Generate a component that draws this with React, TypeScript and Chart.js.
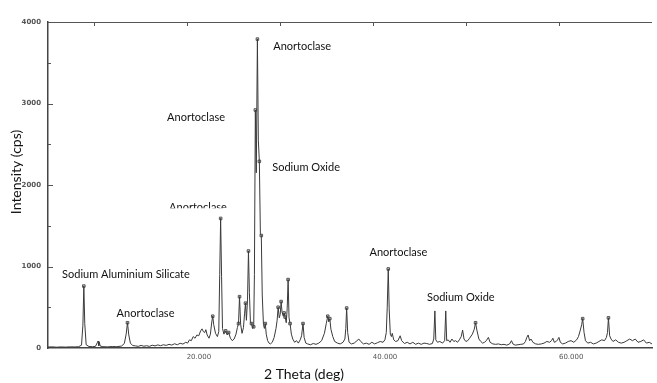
import { useEffect, useRef } from "react";
import { Chart, registerables } from "chart.js";

Chart.register(...registerables);

// Diffraction pattern: 2θ (deg) and intensity (cps)
const twoTheta = [
  5.1, 5.5, 6.0, 6.5, 7.0, 7.5, 8.0, 8.4, 8.7, 8.85, 8.95, 9.05, 9.2, 9.5, 9.9,
  10.2, 10.4, 10.48, 10.55, 10.62, 10.7, 11.0, 11.5, 12.0, 12.5, 13.0, 13.3, 13.5, 13.64, 13.78,
  13.95, 14.2, 14.5, 14.8, 15.1, 15.4, 15.7, 16.0, 16.3, 16.6, 16.9, 17.2, 17.5, 17.8, 18.1,
  18.4, 18.7, 19.0, 19.3, 19.6, 19.9, 20.1, 20.3, 20.5, 20.7, 20.9, 21.1, 21.3, 21.5, 21.65,
  21.8, 21.95, 22.06, 22.2, 22.4, 22.55, 22.7, 22.8, 22.9, 23.1, 23.3, 23.45, 23.55, 23.65, 23.75,
  23.85, 24.0, 24.19, 24.35, 24.51, 24.7, 24.9, 25.1, 25.3, 25.45, 25.57, 25.68, 25.8, 25.95, 26.1,
  26.22, 26.32, 26.42, 26.54, 26.64, 26.74, 26.85, 26.96, 27.08, 27.2, 27.28, 27.38, 27.48, 27.6, 27.7,
  27.81, 27.92, 28.02, 28.12, 28.25, 28.35, 28.45, 28.55, 28.7, 28.85, 29.0, 29.2, 29.4, 29.6, 29.72,
  29.83, 29.95, 30.05, 30.15, 30.25, 30.38, 30.47, 30.58, 30.7, 30.8, 30.9, 31.0, 31.11, 31.25, 31.4,
  31.6, 31.8, 32.0, 32.2, 32.35, 32.5, 32.62, 32.8, 33.0, 33.3, 33.6, 33.9, 34.2, 34.5, 34.8,
  35.0, 35.16, 35.27, 35.38, 35.5, 35.7, 35.9, 36.2, 36.5, 36.8, 37.0, 37.1, 37.19, 37.3, 37.45,
  37.7, 38.0, 38.3, 38.5, 38.7, 39.0, 39.3, 39.6, 39.9, 40.2, 40.5, 40.8, 41.1, 41.3, 41.45,
  41.55, 41.66, 41.76, 41.88, 42.0, 42.09, 42.25, 42.45, 42.7, 42.94, 43.1, 43.4, 43.7, 44.0, 44.3,
  44.6, 44.9, 45.2, 45.5, 45.8, 46.1, 46.4, 46.55, 46.67, 46.77, 46.95, 47.2, 47.5, 47.72, 47.84,
  47.94, 48.1, 48.3, 48.5, 48.7, 48.9, 49.1, 49.3, 49.5, 49.65, 49.8, 50.0, 50.2, 50.4, 50.7,
  50.9, 51.04, 51.2, 51.4, 51.6, 51.8, 52.0, 52.2, 52.42, 52.6, 52.9, 53.2, 53.5, 53.8, 54.1,
  54.4, 54.7, 54.9, 55.05, 55.3, 55.6, 55.9, 56.2, 56.4, 56.55, 56.69, 56.85, 57.0, 57.2, 57.5,
  57.8, 58.1, 58.4, 58.7, 59.0, 59.2, 59.35, 59.5, 59.7, 59.85, 60.0, 60.15, 60.4, 60.7, 61.0,
  61.3, 61.6, 61.9, 62.1, 62.3, 62.45, 62.55, 62.7, 62.85, 63.1, 63.4, 63.7, 64.0, 64.3, 64.6,
  64.9, 65.1, 65.22, 65.32, 65.45, 65.6, 65.8, 66.1, 66.4, 66.7, 67.0, 67.3, 67.6, 67.9, 68.2,
  68.5, 68.8, 69.1, 69.4, 69.7, 70.0,
];
const intensity = [
  12, 14, 10, 13, 11, 14, 13, 16, 35, 280, 760, 300, 40, 18, 16,
  20, 65, 85, 28, 70, 25, 16, 14, 18, 16, 24, 55, 170, 310, 160,
  60, 30, 26, 20, 32, 22, 28, 20, 34, 26, 38, 28, 40, 32, 45,
  36, 52, 40, 58, 48, 70, 60, 100, 90, 140, 120, 160, 150, 210, 235,
  200, 190, 225, 160, 120, 170, 320, 390, 290, 180, 140, 200, 900, 1590, 880,
  240, 170, 210, 160, 190, 120, 90, 110, 170, 250, 300, 630, 290, 180, 250,
  420, 550, 340, 600, 1190, 680, 320, 300, 240, 260, 900, 2920, 2150, 3790, 2550,
  2290, 1400, 1380, 650, 290, 240, 300, 170, 90, 60, 50, 70, 130, 240, 340,
  500, 370, 410, 570, 440, 390, 430, 380, 310, 480, 840, 370, 300, 170, 110,
  70, 90, 60, 100, 150, 300, 130, 60, 50, 40, 55, 45, 60, 90, 180,
  300, 390, 320, 360, 230, 140, 80, 60, 50, 70, 110, 240, 490, 190, 70,
  50, 60, 90, 110, 80, 50, 60, 45, 70, 50, 65, 80, 70, 100, 190,
  500, 970, 480, 170, 140, 180, 100, 80, 90, 150, 90, 55, 70, 50, 70,
  45, 60, 45, 60, 55, 45, 55, 110, 455, 100, 70, 80, 60, 90, 455,
  90, 100, 70, 110, 80, 90, 70, 100, 140, 220, 110, 80, 90, 120, 170,
  230, 310, 210, 110, 80, 60, 70, 90, 130, 70, 50, 45, 50, 40, 45,
  35, 50, 90, 50, 35, 40, 45, 50, 80, 130, 160, 90, 110, 70, 50,
  45, 50, 60, 80, 70, 90, 120, 70, 80, 100, 130, 70, 50, 60, 80,
  90, 70, 100, 140, 220, 290, 360, 190, 90, 60, 70, 50, 60, 80, 100,
  90, 130, 190, 370, 150, 110, 80, 100, 70, 60, 70, 90, 110, 90, 110,
  70, 80, 100, 60, 70, 50,
];

// Peaks flagged by the instrument software (small square markers)
const peakTheta = [
  8.95, 13.64, 22.8, 23.65, 24.19, 24.51, 25.57, 25.68, 26.32, 26.64, 26.96, 27.2, 27.38, 27.6, 27.81,
  28.02, 28.45, 29.83, 30.15, 30.47, 30.58, 30.9, 31.11, 32.5, 35.16, 35.38, 37.19, 41.66, 51.04, 62.55,
  65.32,
];
const peakIntensity = [
  760, 310, 390, 1590, 210, 190, 300, 630, 550, 1190, 300, 260, 2920, 3790, 2290,
  1380, 300, 500, 570, 430, 380, 840, 300, 300, 390, 360, 490, 970, 310, 360,
  370,
];

// Phase annotations (text anchored at its left edge, vertical centre)
const annotationTexts = [
  "Sodium Aluminium Silicate",
  "Anortoclase",
  "Anortoclase",
  "Anortoclase",
  "Sodium Oxide",
  "Anortoclase",
  "Anortoclase",
  "Sodium Oxide",
];
const annotationTheta = [6.61, 12.47, 29.3, 17.9, 29.2, 18.11, 39.64, 45.82];
const annotationCps = [898, 430, 3702, 2829, 2214, 1722, 1168, 615];

const yTickValues = [0, 1000, 2000, 3000, 4000];
const xTickValues = [20, 40, 60];
const xTickLabels = ["20.000", "40.000", "60.000"];
const xMinorTicks = [10, 20, 30, 40, 50, 60];
const yMinorTicks = [500, 1000, 1500, 2000, 2500, 3000, 3500];

const xTitle = "2 Theta (deg)";
const yTitle = "Intensity (cps)";

const CLIPPED_LABEL = 5;

const overlayPlugin = {
  id: "xrdOverlay",
  afterDraw(chart: any) {
    const { ctx, chartArea, scales } = chart;
    const x = scales.x;
    const y = scales.y;
    ctx.save();
    ctx.strokeStyle = "#555";
    ctx.lineWidth = 1;
    // top frame line
    ctx.beginPath();
    ctx.moveTo(chartArea.left, chartArea.top + 0.5);
    ctx.lineTo(chartArea.right, chartArea.top + 0.5);
    ctx.stroke();
    // top ticks
    xMinorTicks.forEach((t) => {
      const px = Math.round(x.getPixelForValue(t)) + 0.5;
      ctx.beginPath();
      ctx.moveTo(px, chartArea.top);
      ctx.lineTo(px, chartArea.top + 4);
      ctx.stroke();
    });
    // inner y ticks
    yMinorTicks.forEach((v) => {
      const py = Math.round(y.getPixelForValue(v)) + 0.5;
      ctx.beginPath();
      ctx.moveTo(chartArea.left, py);
      ctx.lineTo(chartArea.left + (v % 1000 === 0 ? 5 : 3), py);
      ctx.stroke();
    });

    // annotations
    ctx.fillStyle = "#111";
    ctx.font = "11px Lato";
    ctx.textAlign = "left";
    ctx.textBaseline = "middle";
    annotationTexts.forEach((text, i) => {
      const px = x.getPixelForValue(annotationTheta[i]);
      const py = y.getPixelForValue(annotationCps[i]);
      if (i === CLIPPED_LABEL) {
        ctx.save();
        ctx.beginPath();
        ctx.rect(px - 2, py - 10, 90, 10.5);
        ctx.clip();
        ctx.fillText(text, px, py);
        ctx.restore();
      } else {
        ctx.fillText(text, px, py);
      }
    });

    // axis titles
    ctx.font = "14px Lato";
    ctx.textAlign = "center";
    ctx.fillText(xTitle, 304, 374);
    ctx.translate(16, 172);
    ctx.rotate(-Math.PI / 2);
    ctx.fillText(yTitle, 0, 0);
    ctx.restore();
  },
};

export default function App() {
  const canvasRef = useRef<HTMLCanvasElement | null>(null);

  useEffect(() => {
    document.body.style.margin = "0";
    document.body.style.background = "#fff";
    const canvas = canvasRef.current;
    if (!canvas) return;

    const lineData = twoTheta.map((t, i) => ({ x: t, y: intensity[i] }));
    const peakData = peakTheta.map((t, i) => ({ x: t, y: peakIntensity[i] }));

    const chart = new Chart(canvas, {
      type: "line",
      data: {
        datasets: [
          {
            label: "Pattern",
            data: lineData,
            borderColor: "#3a3a3a",
            borderWidth: 1,
            pointRadius: 0,
            tension: 0,
            fill: false,
          },
          {
            label: "Peaks",
            data: peakData,
            showLine: false,
            pointStyle: "rect",
            pointRadius: 1.8,
            borderWidth: 1,
            pointBorderColor: "#555",
            pointBackgroundColor: "#ccc",
          },
        ],
      },
      options: {
        responsive: false,
        animation: false,
        devicePixelRatio: 1,
        layout: { padding: { top: 22, right: 0, left: 0, bottom: 0 } },
        plugins: {
          legend: { display: false },
          tooltip: { enabled: false },
        },
        scales: {
          x: {
            type: "linear",
            min: 5.1,
            max: 70,
            grid: { display: false, drawTicks: false },
            border: { display: true, color: "#444", width: 1.5 },
            afterBuildTicks: (scale: any) => {
              scale.ticks = xTickValues.map((v) => ({ value: v }));
            },
            afterFit: (scale: any) => {
              scale.height = 35;
            },
            ticks: {
              align: "start",
              padding: 5,
              color: "#555",
              font: { family: "DejaVu Sans", size: 7 },
              maxRotation: 0,
              autoSkip: false,
              callback: (value: any) => {
                const idx = xTickValues.indexOf(Number(value));
                return idx >= 0 ? xTickLabels[idx] : "";
              },
            },
          },
          y: {
            type: "linear",
            min: 0,
            max: 4000,
            grid: { display: false, drawTicks: false },
            border: { display: true, color: "#444", width: 1.5 },
            afterBuildTicks: (scale: any) => {
              scale.ticks = yTickValues.map((v) => ({ value: v }));
            },
            afterFit: (scale: any) => {
              scale.width = 48;
            },
            ticks: {
              padding: 7,
              color: "#555",
              font: { family: "DejaVu Sans", size: 7, weight: "bold" },
              callback: (value: any) => String(value),
            },
          },
        },
      },
      plugins: [overlayPlugin],
    });

    return () => chart.destroy();
  }, []);

  return (
    <div style={{ width: 657, height: 383, background: "#fff" }}>
      <canvas ref={canvasRef} width={657} height={383} style={{ display: "block" }} />
    </div>
  );
}
